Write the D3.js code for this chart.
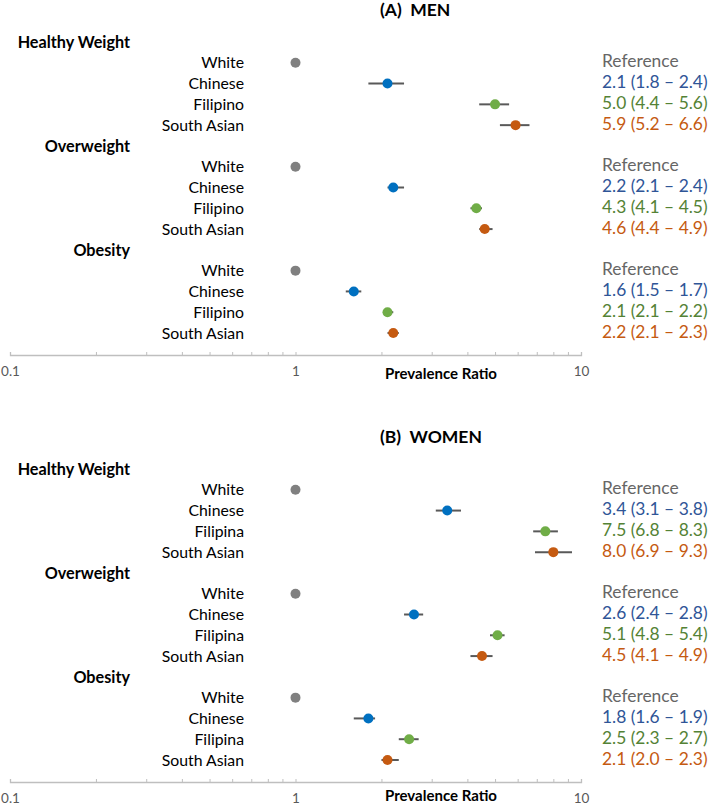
<!DOCTYPE html>
<html>
<head>
<meta charset="utf-8">
<script src="https://cdn.jsdelivr.net/npm/d3@7"></script>
<style>
  html, body { margin: 0; padding: 0; background: #fff; }
  svg { display: block; font-family: Lato, "Noto Sans", sans-serif; }
</style>
</head>
<body>
<svg id="chart" width="708" height="806"></svg>
<script>
// ---- data ----
const panelTitles = ["(A)  MEN", "(B)  WOMEN"];
const weightGroups = ["Healthy Weight", "Overweight", "Obesity"];
const menGroups = ["White", "Chinese", "Filipino", "South Asian"];
const womenGroups = ["White", "Chinese", "Filipina", "South Asian"];

// prevalence ratio estimates [weight group][ethnic group]
const menEstimate = [[1, 2.1, 5.0, 5.9], [1, 2.2, 4.3, 4.6], [1, 1.6, 2.1, 2.2]];
const menLower    = [[null, 1.8, 4.4, 5.2], [null, 2.1, 4.1, 4.4], [null, 1.5, 2.1, 2.1]];
const menUpper    = [[null, 2.4, 5.6, 6.6], [null, 2.4, 4.5, 4.9], [null, 1.7, 2.2, 2.3]];

const womenEstimate = [[1, 3.4, 7.5, 8.0], [1, 2.6, 5.1, 4.5], [1, 1.8, 2.5, 2.1]];
const womenLower    = [[null, 3.1, 6.8, 6.9], [null, 2.4, 4.8, 4.1], [null, 1.6, 2.3, 2.0]];
const womenUpper    = [[null, 3.8, 8.3, 9.3], [null, 2.8, 5.4, 4.9], [null, 1.9, 2.7, 2.3]];

const majorTicks = [0.1, 1, 10];
const minorTicks = [0.1,0.2,0.3,0.4,0.5,0.6,0.7,0.8,0.9,1,2,3,4,5,6,7,8,9,10];
const axisTitle = "Prevalence Ratio";
const referenceLabel = "Reference";

// ---- styles ----
const dotColors = ["#808080", "#0070c0", "#70ad47", "#c55a11"];
const textColors = ["#666666", "#2f5597", "#548235", "#c55a11"];

const svg = d3.select("#chart");
const x = d3.scaleLog().domain([0.1, 10]).range([10, 581]);

function drawPanel(idx, cats, est, lo, hi) {
  const oy = idx * 427;
  const g = svg.append("g").attr("transform", `translate(0,${oy})`);
  const y = d3.scaleLinear().domain([0, 14]).range([42, 333]);

  g.append("text")
    .attr("x", 380).attr("y", 16)
    .attr("font-weight", "bold").attr("font-size", 17.5)
    .attr("fill", "#000")
    .attr("xml:space", "preserve")
    .text(panelTitles[idx]);

  weightGroups.forEach((wg, gi) => {
    const base = gi * 5;
    g.append("text")
      .attr("x", 130).attr("y", y(base)).attr("dy", "0.35em")
      .attr("text-anchor", "end").attr("font-weight", "bold")
      .attr("font-size", 16.2).attr("fill", "#000")
      .text(wg);
    cats.forEach((c, ci) => {
      const yy = y(base + 1 + ci);
      g.append("text")
        .attr("x", 244).attr("y", yy).attr("dy", "0.35em")
        .attr("text-anchor", "end").attr("font-size", 15.8).attr("fill", "#000")
        .text(c);
      const e = est[gi][ci], l = lo[gi][ci], h = hi[gi][ci];
      if (l != null) {
        g.append("line")
          .attr("x1", x(l)).attr("x2", x(h)).attr("y1", yy).attr("y2", yy)
          .attr("stroke", "#595959").attr("stroke-width", 2);
      }
      g.append("circle")
        .attr("cx", x(e)).attr("cy", yy).attr("r", 5)
        .attr("fill", dotColors[ci]);
      const label = l == null ? referenceLabel
        : `${e.toFixed(1)} (${l.toFixed(1)} \u2013 ${h.toFixed(1)})`;
      g.append("text")
        .attr("x", 602).attr("y", yy - 1.5).attr("dy", "0.35em")
        .attr("font-size", 17.4).attr("fill", textColors[ci])
        .text(label);
    });
  });

  const axis = d3.axisBottom(x)
    .tickValues(minorTicks)
    .tickSize(-3)
    .tickPadding(11)
    .tickFormat(d => majorTicks.some(m => Math.abs(m - d) < 1e-9) ? d3.format("~g")(d) : "");
  const ag = g.append("g").attr("transform", "translate(0,355)").call(axis);
  ag.select(".domain").attr("stroke", "#bfbfbf").attr("stroke-width", 1.3);
  ag.selectAll(".tick line").attr("stroke", "#bfbfbf");
  ag.selectAll(".tick text").attr("fill", "#595959").attr("font-size", 13.5)
    .attr("font-family", "Lato, sans-serif");

  g.append("text")
    .attr("x", 441).attr("y", idx === 0 ? 374 : 369).attr("dy", "0.35em")
    .attr("text-anchor", "middle").attr("font-weight", "bold")
    .attr("font-size", 15).attr("fill", "#000")
    .text(axisTitle);
}

drawPanel(0, menGroups, menEstimate, menLower, menUpper);
drawPanel(1, womenGroups, womenEstimate, womenLower, womenUpper);
</script>
</body>
</html>
